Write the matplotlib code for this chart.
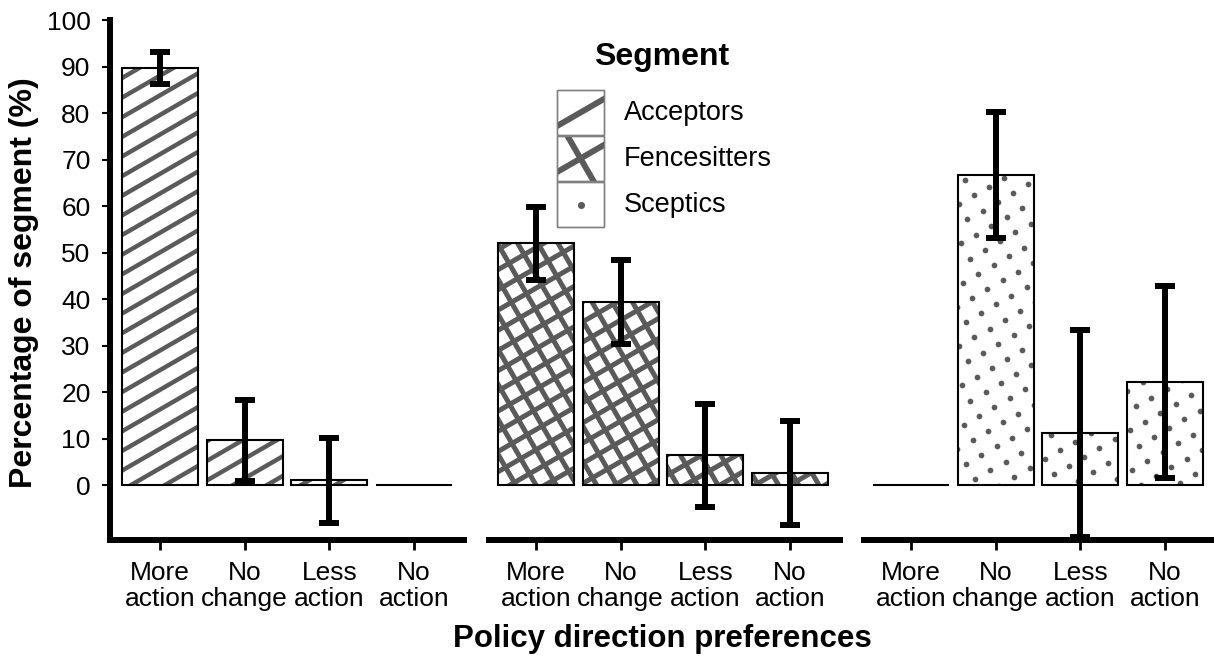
import numpy as np
import matplotlib
matplotlib.use("Agg")
import matplotlib.pyplot as plt
from matplotlib.collections import LineCollection
from matplotlib.patches import Rectangle

plt.rcParams['font.family'] = ['Liberation Sans', 'DejaVu Sans']

# ---------------- data ----------------
categories = ["More\naction", "No\nchange", "Less\naction", "No\naction"]
segments = ["Acceptors", "Fencesitters", "Sceptics"]
acceptors = [89.7, 9.6, 1.0, 0.0]
acceptors_err = [3.4, 8.8, 9.2, 0.0]
fencesitters = [52.0, 39.4, 6.4, 2.6]
fencesitters_err = [7.9, 9.0, 11.0, 11.2]
sceptics = [0.0, 66.7, 11.1, 22.2]
sceptics_err = [0.0, 13.6, 22.2, 20.7]
yticks = list(range(0, 101, 10))
y_min, y_max = -11.8, 100

values = [acceptors, fencesitters, sceptics]
errors = [acceptors_err, fencesitters_err, sceptics_err]
patterns = ["stripe", "cross", "dots"]

# ---------------- style ----------------
W, H, DPI = 12.14, 6.56, 100
HATCH = '#5a5a5a'
fig = plt.figure(figsize=(W, H), dpi=DPI)

unit = 84.7           # px per category
xl = (0.41, 4.63)
panel_w = (xl[1] - xl[0]) * unit
lefts = [110, 486, 861]
ax_bottom_px, ax_top_px = 540, 20
SPAN = 14.0  # inches, for pattern coverage


def px2in(p):
    return p / DPI


def stripe_lines(angle, spacing_px):
    u = np.array([np.cos(np.radians(angle)), np.sin(np.radians(angle))])
    n = np.array([-u[1], u[0]])
    s = px2in(spacing_px)
    c = np.array([W / 2, H / 2])
    segs = []
    N = int(SPAN / s) + 1
    for k in range(-N, N + 1):
        p = c + k * s * n
        segs.append([p - SPAN * u, p + SPAN * u])
    return segs


def add_pattern(ax, bar, kind):
    if kind in ("stripe", "cross"):
        segs = stripe_lines(30, 17.0)
        lw = 3.2
        if kind == "cross":
            segs = stripe_lines(30, 17.5) + stripe_lines(120, 17.5)
            lw = 3.6
        lc = LineCollection(segs, colors=HATCH, linewidths=lw,
                            transform=fig.dpi_scale_trans, zorder=2)
        ax.add_collection(lc, autolim=False)
        lc.set_clip_path(bar)
    else:
        s = px2in(17.6)
        a = s * np.array([np.cos(np.radians(30)), np.sin(np.radians(30))])
        b = s * np.array([-np.sin(np.radians(30)), np.cos(np.radians(30))])
        N = int(SPAN / s) + 1
        ii, jj = np.meshgrid(np.arange(-N, N + 1), np.arange(-N, N + 1))
        pts = ii.ravel()[:, None] * a + jj.ravel()[:, None] * b
        bb = bar.get_window_extent()
        x0, x1 = bb.x0 / DPI - 0.1, bb.x1 / DPI + 0.1
        y0, y1 = bb.y0 / DPI - 0.1, bb.y1 / DPI + 0.1
        m = (pts[:, 0] > x0) & (pts[:, 0] < x1) & (pts[:, 1] > y0) & (pts[:, 1] < y1)
        pts = pts[m]
        sc = ax.scatter(pts[:, 0], pts[:, 1], s=17, c=HATCH, linewidths=0,
                        transform=fig.dpi_scale_trans, zorder=2)
        sc.set_clip_path(bar)


x = np.arange(1, len(categories) + 1)
axes = []
for i, (vals, errs, pat) in enumerate(zip(values, errors, patterns)):
    ax = fig.add_axes([lefts[i] / (W * DPI), 1 - ax_bottom_px / (H * DPI),
                       panel_w / (W * DPI), (ax_bottom_px - ax_top_px) / (H * DPI)])
    ax.set_xlim(*xl)
    ax.set_ylim(y_min, y_max)
    ax.patch.set_visible(False)
    bars = ax.bar(x, vals, width=0.9, color='white', edgecolor='none', zorder=1)
    for bar in bars:
        add_pattern(ax, bar, pat)
    ax.bar(x, vals, width=0.9, facecolor='none', edgecolor='black',
           linewidth=1.5, zorder=3)
    xs = [xx for xx, v in zip(x, vals) if v > 0]
    vs = [v for v in vals if v > 0]
    es = [e for e, v in zip(errs, vals) if v > 0]
    ax.errorbar(xs, vs, yerr=es, fmt='none', ecolor='black', elinewidth=4.3,
                capsize=7.5, capthick=4.3, clip_on=False, zorder=5)
    for sp in ['top', 'right']:
        ax.spines[sp].set_visible(False)
    ax.spines['bottom'].set_linewidth(4.3)
    ax.spines['bottom'].set_capstyle('butt')
    ax.set_xticks(x)
    ax.set_xticklabels(categories, fontsize=19, linespacing=1.1)
    ax.tick_params(axis='x', length=7.5, width=2, pad=7.5, colors='black')
    if i == 0:
        ax.spines['left'].set_linewidth(4.3)
        ax.set_yticks(yticks)
        ax.set_yticklabels([str(t) for t in yticks], fontsize=19)
        ax.tick_params(axis='y', length=6, width=1.5, pad=8)
    else:
        ax.spines['left'].set_visible(False)
        ax.set_yticks([])
    axes.append(ax)

# ---------------- legend ----------------
lg = fig.add_axes([0, 0, 1, 1], zorder=10)
lg.set_xlim(0, W * DPI)
lg.set_ylim(H * DPI, 0)
lg.axis('off')
lg.text(662, 57, "Segment", ha='center', va='center', fontsize=23, fontweight='bold')
kx, kw, kh = 557, 47, 45
key_tops = [90, 136, 182]
for seg, ky, pat in zip(segments, key_tops, patterns):
    rect = Rectangle((kx, ky), kw, kh, facecolor='white', edgecolor='#808080',
                     linewidth=1, zorder=1)
    lg.add_patch(rect)
    cx, cy = kx + kw / 2, ky + kh / 2
    if pat in ("stripe", "cross"):
        angs = [30] if pat == "stripe" else [30, -60]
        for ang in angs:
            dx, dy = np.cos(np.radians(ang)) * 40, -np.sin(np.radians(ang)) * 40
            ln, = lg.plot([cx - dx, cx + dx], [cy - dy, cy + dy], color=HATCH,
                          linewidth=4.3, solid_capstyle='butt', zorder=2)
            ln.set_clip_path(rect)
    else:
        lg.scatter([cx], [cy], s=26, c=HATCH, linewidths=0, zorder=2)
    edge = Rectangle((kx, ky), kw, kh, facecolor='none', edgecolor='#808080',
                     linewidth=1, zorder=3)
    lg.add_patch(edge)
    lg.text(624, cy, seg, ha='left', va='center', fontsize=19.5)

# ---------------- axis titles ----------------
fig.text(662 / (W * DPI), 1 - 639 / (H * DPI), "Policy direction preferences",
         ha='center', va='center', fontsize=22.5, fontweight='bold')
fig.text(24 / (W * DPI), 1 - 283 / (H * DPI), "Percentage of segment (%)",
         ha='center', va='center', rotation=90, fontsize=23, fontweight='bold')

fig.savefig("out.png", dpi=DPI)
